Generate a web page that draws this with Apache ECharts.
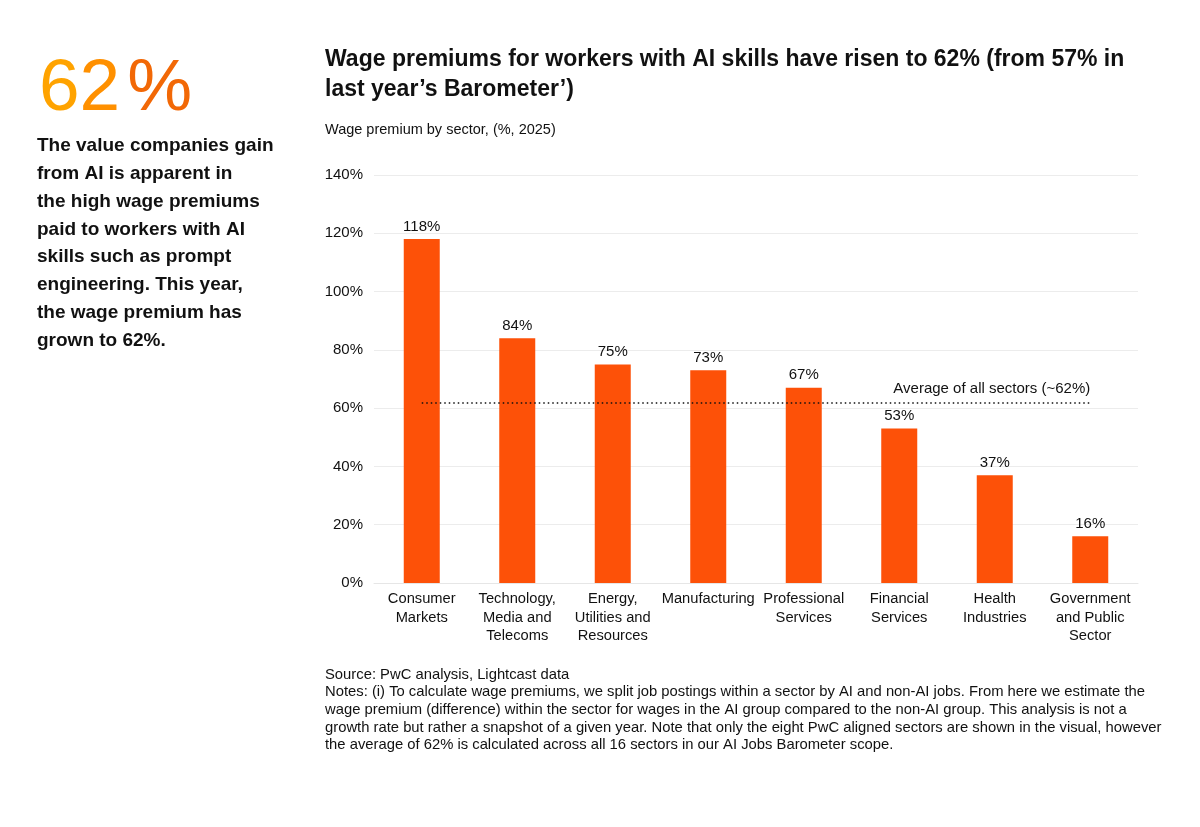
<!DOCTYPE html>
<html>
<head>
<meta charset="utf-8">
<script src="https://cdn.jsdelivr.net/npm/echarts@6/dist/echarts.min.js"></script>
<style>
html, body { margin: 0; padding: 0; background: #fff; }
#main { width: 1200px; height: 827px; }
</style>
</head>
<body>
<div id="main"></div>
<script>
// 数据
var sectors = ['Consumer\nMarkets', 'Technology,\nMedia and\nTelecoms', 'Energy,\nUtilities and\nResources',
	'Manufacturing', 'Professional\nServices', 'Financial\nServices', 'Health\nIndustries', 'Government\nand Public\nSector'];
var premiums = [118, 84, 75, 73, 67, 53, 37, 16];
var averageAll = 62;
var yTicks = [0, 20, 40, 60, 80, 100, 120, 140];

var font = '"Liberation Sans", Arial, sans-serif';
var myChart = echarts.init(document.getElementById('main'));

// 大数字：文字不支持渐变，逐字上色模拟
function bigStyle(c, pad) {
	return { fill: c, fontFamily: font, fontWeight: 'normal', fontSize: 73, padding: pad || 0 };
}
var option = {
	backgroundColor: '#fff',
	textStyle: { fontFamily: font },
	graphic: [
		{
			type: 'text', left: 39, top: 53,
			style: {
				text: '{a|6}{b|2}{c|%}',
				rich: {
					a: bigStyle('#FFA300'),
					b: bigStyle('#FF9000'),
					c: bigStyle('#F26806', [0, 0, 0, 7])
				}
			}
		},
		{
			type: 'text', left: 37, top: 132,
			style: {
				text: 'The value companies gain\nfrom AI is apparent in\nthe high wage premiums\npaid to workers with AI\nskills such as prompt\nengineering. This year,\nthe wage premium has\ngrown to 62%.',
				font: 'bold 19px ' + font,
				lineHeight: 27.8,
				fill: '#111'
			}
		},
		{
			type: 'text', left: 325, top: 45,
			style: {
				text: 'Wage premiums for workers with AI skills have risen to 62% (from 57% in\nlast year\u2019s Barometer\u2019)',
				font: 'bold 23px ' + font,
				lineHeight: 30,
				fill: '#111'
			}
		},
		{
			type: 'text', left: 325, top: 122,
			style: {
				text: 'Wage premium by sector, (%, 2025)',
				font: '14.5px ' + font,
				fill: '#111'
			}
		},
		{
			type: 'text', left: 325, top: 666,
			style: {
				text: 'Source: PwC analysis, Lightcast data\nNotes: (i) To calculate wage premiums, we split job postings within a sector by AI and non-AI jobs. From here we estimate the\nwage premium (difference) within the sector for wages in the AI group compared to the non-AI group. This analysis is not a\ngrowth rate but rather a snapshot of a given year. Note that only the eight PwC aligned sectors are shown in the visual, however\nthe average of 62% is calculated across all 16 sectors in our AI Jobs Barometer scope.',
				font: '14.8px ' + font,
				lineHeight: 17.6,
				fill: '#111'
			}
		}
	],
	grid: {
		left: 374,
		right: 62,
		top: 175,
		bottom: 244
	},
	xAxis: {
		type: 'category',
		data: sectors,
		axisTick: { show: false },
		axisLine: { lineStyle: { color: '#e6e6e6' } },
		axisLabel: {
			interval: 0,
			color: '#111',
			fontSize: 14.7,
			lineHeight: 18.5,
			margin: 7
		}
	},
	yAxis: {
		type: 'value',
		min: yTicks[0],
		max: yTicks[yTicks.length - 1],
		interval: 20,
		axisLabel: {
			color: '#111',
			fontSize: 15,
			margin: 11,
			formatter: '{value}%'
		},
		splitLine: { lineStyle: { color: '#ececec' } }
	},
	series: [{
		type: 'bar',
		data: premiums,
		barWidth: 36,
		itemStyle: { color: '#FD5108' },
		label: {
			show: true,
			position: 'top',
			distance: 5,
			color: '#111',
			fontSize: 15,
			formatter: '{c}%'
		},
		markLine: {
			symbol: 'none',
			silent: true,
			lineStyle: { color: '#111', type: [1.5, 3], width: 1.5 },
			label: {
				position: 'insideEndTop',
				distance: [0, 6],
				color: '#111',
				fontSize: 15,
				formatter: 'Average of all sectors (~62%)'
			},
			data: [[
				{ coord: [0, averageAll] },
				{ coord: [sectors.length - 1, averageAll] }
			]]
		}
	}]
};
myChart.setOption(option);
</script>
</body>
</html>
